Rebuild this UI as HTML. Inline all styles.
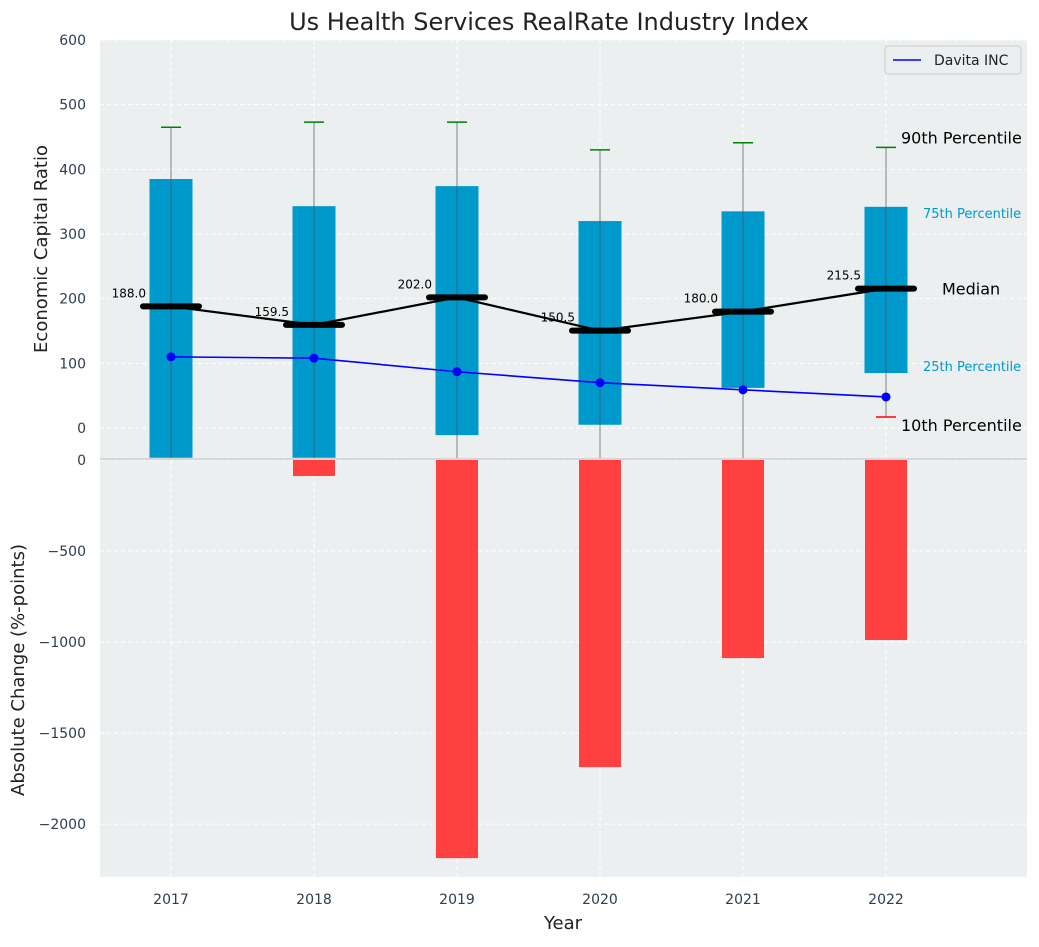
<!DOCTYPE html>
<html><head><meta charset="utf-8"><style>
body{margin:0;background:#fff;font-family:"Liberation Sans","DejaVu Sans",sans-serif}
svg text{font-family:"DejaVu Sans","Liberation Sans",sans-serif}
</style></head><body>
<svg id="c" width="1039" height="942" viewBox="0 0 1039 942" xmlns="http://www.w3.org/2000/svg"></svg>
<script>
const years=[2017,2018,2019,2020,2021,2022];
const p10=[-80,-100,-70,-60,-50,17];
const p25=[-46,-46,-11,5,62,85];
const medians=[188,159.5,202,150.5,180,215.5];
const p75=[385,343,374,320,335,342];
const p90=[465,473,473,430,441,434];
const davita=[110,108,87,70,59,48];
const changes=[0,-88,-2187,-1687,-1088,-989];
const topTicks=[0,100,200,300,400,500,600];
const botTicks=[0,-500,-1000,-1500,-2000];

const NS="http://www.w3.org/2000/svg";
const svg=document.getElementById('c');
function el(tag,attrs,parent){const e=document.createElementNS(NS,tag);for(const k in attrs)e.setAttribute(k,attrs[k]);(parent||svg).appendChild(e);return e;}
const L=100,R=1027;
const x=v=>171+(v-2017)*143;
const yT=v=>428-v*0.6467;
const yB=v=>460-v*0.18205;
const T0=40,T1=458,B0=460,B1=877;

let bg=el('rect',{x:L,y:T0,width:R-L,height:T1-T0,fill:'#ebeff0'});

let bg2=el('rect',{x:L,y:B0,width:R-L,height:B1-B0,fill:'#ebeff0'});

el('line',{x1:L,x2:R,y1:459,y2:459,stroke:'#c8c8c8','stroke-width':1.5});

const clipT=el('clipPath',{id:'ct'});el('rect',{x:L,y:T0,width:R-L,height:T1-T0},clipT);
const clipB=el('clipPath',{id:'cb'});el('rect',{x:L,y:B0,width:R-L,height:B1-B0},clipB);
const gT=el('g',{'clip-path':'url(#ct)'});const gB=el('g',{'clip-path':'url(#cb)'});
topTicks.forEach(t=>{el('line',{x1:L,x2:R,y1:yT(t),y2:yT(t),stroke:'#fff','stroke-dasharray':'4,3'},gT);
 const tx=el('text',{x:86,y:yT(t)+5,'text-anchor':'end','font-size':14,fill:'#2c3e50'});tx.textContent=t;
 });
botTicks.forEach(t=>{el('line',{x1:L,x2:R,y1:yB(t),y2:yB(t),stroke:'#fff','stroke-dasharray':'4,3'},gB);
 const tx=el('text',{x:86,y:yB(t)+5,'text-anchor':'end','font-size':14,fill:'#2c3e50'});tx.textContent=t===0?'0':'\u2212'+(-t);
 });
years.forEach(yr=>{el('line',{x1:x(yr),x2:x(yr),y1:T0,y2:T1,stroke:'#fff','stroke-dasharray':'4,3'},gT);
 el('line',{x1:x(yr),x2:x(yr),y1:B0,y2:B1,stroke:'#fff','stroke-dasharray':'4,3'},gB);
 const tx=el('text',{x:x(yr),y:904,'text-anchor':'middle','font-size':14,fill:'#2c3e50'});tx.textContent=yr;
 });

years.forEach((yr,i)=>{
 const b=el('rect',{x:x(yr)-21.5,y:yT(p75[i]),width:43,height:yT(p25[i])-yT(p75[i]),fill:'#0099cc'},gT);
 
 el('line',{x1:x(yr),x2:x(yr),y1:yT(p90[i]),y2:yT(p10[i]),stroke:'#555','stroke-opacity':0.6,'stroke-width':1.2},gT);
 const c=el('line',{x1:x(yr)-10,x2:x(yr)+10,y1:yT(p90[i]),y2:yT(p90[i]),stroke:'green','stroke-width':1.5},gT);
 
 if(yT(p10[i])<T1){const c2=el('line',{x1:x(yr)-10,x2:x(yr)+10,y1:yT(p10[i]),y2:yT(p10[i]),stroke:'red','stroke-width':1.5},gT);
 }
});
const ml=el('polyline',{points:years.map((yr,i)=>x(yr)+','+yT(medians[i])).join(' '),fill:'none',stroke:'#000','stroke-width':2.2},gT);

years.forEach((yr,i)=>{
 const m=el('line',{x1:x(yr)-28,x2:x(yr)+28,y1:yT(medians[i]),y2:yT(medians[i]),stroke:'#000','stroke-width':6,'stroke-linecap':'round'},gT);
 
 const t=el('text',{x:x(yr)-25,y:yT(medians[i])-9,'text-anchor':'end','font-size':12,fill:'#000'});t.textContent=medians[i].toFixed(1);
 
});
const dl=el('polyline',{points:years.map((yr,i)=>x(yr)+','+yT(davita[i])).join(' '),fill:'none',stroke:'blue','stroke-width':1.6},gT);

years.forEach((yr,i)=>{const p=el('circle',{cx:x(yr),cy:yT(davita[i]),r:4.5,fill:'blue'},gT);
 });
years.forEach((yr,i)=>{if(changes[i]===0)return;
 const b=el('rect',{x:x(yr)-21,y:yB(0),width:42,height:yB(changes[i])-yB(0),fill:'#ff4040'},gB);
 });

const lk=x(2022);
[['90th Percentile',lk+15,yT(p90[5])-4,16,'#000'],['75th Percentile',lk+37,yT(p75[5])+11,13,'#0099cc'],['Median',lk+56,yT(medians[5])+6,16,'#000'],['25th Percentile',lk+37,yT(p25[5])-2,13,'#0099cc'],['10th Percentile',lk+15,yT(p10[5])+14,16,'#000']].forEach(a=>{
 const t=el('text',{x:a[1],y:a[2],'font-size':a[3],fill:a[4]});t.textContent=a[0];
 });

const lg=el('g',{});
el('rect',{x:885,y:46,width:136,height:28,rx:3,fill:'#ebeff0',stroke:'#ccc'},lg);
el('line',{x1:893,x2:921,y1:60,y2:60,stroke:'blue','stroke-width':1.6},lg);
const lt=el('text',{x:934,y:65,'font-size':14,fill:'#222'},lg);lt.textContent='Davita INC';

const tt=el('text',{x:549,y:30,'text-anchor':'middle','font-size':24,fill:'#222'});tt.textContent='Us Health Services RealRate Industry Index';

const xt=el('text',{x:563,y:929,'text-anchor':'middle','font-size':18,fill:'#222'});xt.textContent='Year';

const y1=el('text',{x:0,y:0,'text-anchor':'middle','font-size':18,fill:'#222',transform:'translate(47,249) rotate(-90)'});y1.textContent='Economic Capital Ratio';

const y2=el('text',{x:0,y:0,'text-anchor':'middle','font-size':18,fill:'#222',transform:'translate(24,670) rotate(-90)'});y2.textContent='Absolute Change (%-points)';

</script>
</body></html>
